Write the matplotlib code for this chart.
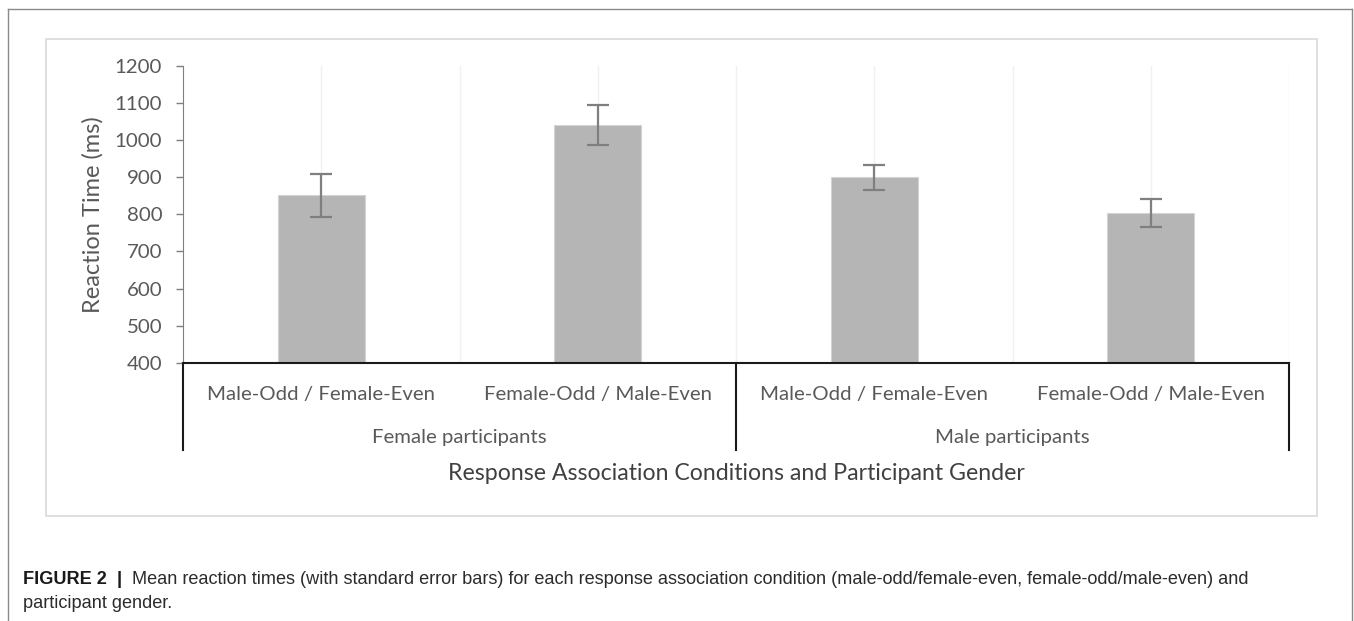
import matplotlib.pyplot as plt
from matplotlib.lines import Line2D
from matplotlib.patches import Rectangle

W, H = 1354, 621

conditions = ["Male-Odd / Female-Even", "Female-Odd / Male-Even",
              "Male-Odd / Female-Even", "Female-Odd / Male-Even"]
groups = ["Female participants", "Male participants"]
mean_rt = [852, 1041, 900, 803]
se_rt = [58, 53, 34, 38]
y_ticks = [400, 500, 600, 700, 800, 900, 1000, 1100, 1200]

caption_head = "FIGURE 2"
caption_body = ("Mean reaction times (with standard error bars) for each response association "
                "condition (male-odd/female-even, female-odd/male-even) and")
caption_tail = "participant gender."

BAR = "#b4b5b4"
TEXT = "#595959"
CAP = "#2b2b2b"
FS = 14.7


def fx(px):
    return px / W


def fy(py):
    return 1 - py / H


fig = plt.figure(figsize=(W / 100, H / 100), dpi=100)
fig.patch.set_facecolor("white")

# page frame and chart area frame
for xs, ys in [((8, 8), (9, H)), ((8, 1352), (9, 9)), ((1352, 1352), (9, H))]:
    fig.add_artist(Line2D([fx(x) for x in xs], [fy(y) for y in ys],
                          color="#8a8a8a", lw=1.0))
fig.add_artist(Rectangle((fx(46), fy(516)), fx(1317) - fx(46), fy(39) - fy(516),
                         fill=False, ec="#d9d9d9", lw=1.2, transform=fig.transFigure))

ax = fig.add_axes([fx(183), fy(362.7), fx(1289) - fx(183), fy(66) - fy(362.7)])
x = list(range(len(mean_rt)))

# faint vertical grid at centres and category boundaries
for g in [i * 0.5 - 0.5 for i in range(1, 9)]:
    ax.axvline(g, color="#f0f0f0", lw=1.0, zorder=0)

ax.bar(x, mean_rt, width=0.315, color=BAR, edgecolor="#d4d4d4", lw=0.8, zorder=2)
ax.errorbar(x, mean_rt, yerr=se_rt, fmt="none", ecolor="#7f7f7f",
            elinewidth=1.6, capsize=8, capthick=1.6, zorder=3)

ax.set_xlim(-0.5, 3.5)
ax.set_ylim(400, 1200)
ax.set_yticks(y_ticks)
ax.tick_params(axis="y", direction="out", length=5, width=1, color="#7f7f7f",
               labelsize=FS, labelcolor=TEXT, pad=10)
ax.set_xticks(x)
ax.set_xticklabels(conditions)
ax.tick_params(axis="x", length=0, labelsize=FS, labelcolor=TEXT, pad=17)
for lab in ax.get_xticklabels() + ax.get_yticklabels():
    lab.set_family("Lato")

for side in ["top", "right"]:
    ax.spines[side].set_visible(False)
ax.spines["left"].set_color("#7f7f7f")
ax.spines["bottom"].set_color("#1a1a1a")
ax.spines["bottom"].set_linewidth(1.5)

# multi-level category axis: group dividers and group names
trans = ax.get_xaxis_transform()
span = 362.7 - 66
y_low = -(450 - 362.7) / span
for d in [-0.5, 1.5, 3.5]:
    ax.add_line(Line2D([d, d], [0, y_low], transform=trans, color="#1a1a1a",
                       lw=1.5, clip_on=False))
for i, g in enumerate(groups):
    ax.text(2 * i + 0.5, -(437 - 362.7) / span, g, transform=trans,
            ha="center", va="center", fontsize=FS, color=TEXT, family="Lato")

ax.text(1.5, -(474 - 362.7) / span,
        "Response Association Conditions and Participant Gender",
        transform=trans, ha="center", va="center", fontsize=16.7,
        color="#404040", family="Lato")
ax.set_ylabel("Reaction Time (ms)", fontsize=17, color=TEXT, family="Lato",
              labelpad=8)

# caption
cap_fs = 13.1
head = fig.text(fx(23), fy(579), caption_head, fontsize=cap_fs, fontweight="bold",
                color="#1a1a1a", family="Liberation Sans", va="center")
fig.canvas.draw()
r = fig.canvas.get_renderer()
bb = head.get_window_extent(r)
sep = fig.text((bb.x1 + 10) / W, fy(579), "|", fontsize=cap_fs, fontweight="bold",
               color="#1a1a1a", family="Liberation Sans", va="center")
bb2 = sep.get_window_extent(r)
fig.text((bb2.x1 + 10) / W, fy(579), caption_body, fontsize=cap_fs,
         color=CAP, family="Liberation Sans", va="center")
fig.text(fx(23), fy(603), caption_tail, fontsize=cap_fs,
         color=CAP, family="Liberation Sans", va="center")

fig.savefig("out.png", dpi=100)
